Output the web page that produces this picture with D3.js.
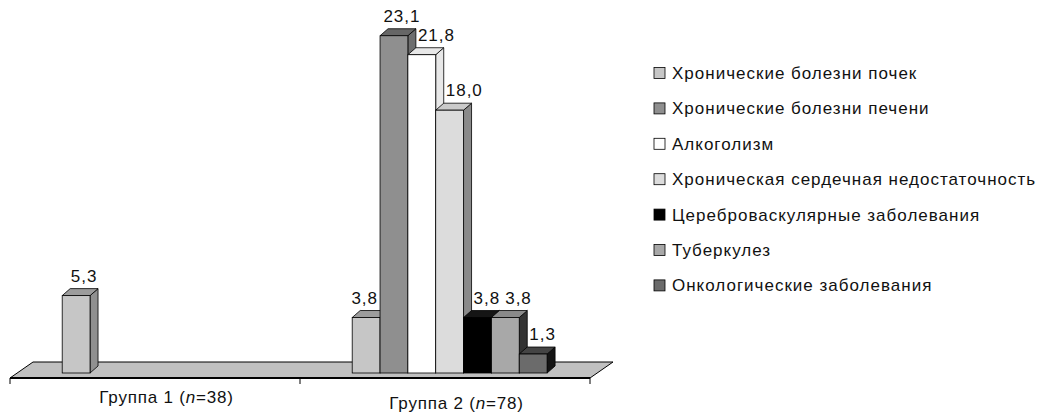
<!DOCTYPE html>
<html>
<head>
<meta charset="utf-8">
<script src="https://cdn.jsdelivr.net/npm/d3@7"></script>
<style>
  body { margin: 0; background: #fff; }
  svg text { font-family: "Liberation Sans", Arial, sans-serif; fill: #111; }
</style>
</head>
<body>
<div id="chart"></div>
<script>
// groups and series
const groups = ["Группа 1", "Группа 2"]
const groupN = [38, 78]
const series = [
  "Хронические болезни почек",
  "Хронические болезни печени",
  "Алкоголизм",
  "Хроническая сердечная недостаточность",
  "Цереброваскулярные заболевания",
  "Туберкулез",
  "Онкологические заболевания"
]
// values per series, one per group (null = no bar)
const group1Values = [5.3, null, null, null, null, null, null]
const group2Values = [3.8, 23.1, 21.8, 18.0, 3.8, 3.8, 1.3]

// face colours: front, top, side
const frontColors = ["#c6c6c6", "#8f8f8f", "#ffffff", "#dcdcdc", "#000000", "#a8a8a8", "#6b6b6b"]
const topColors = ["#9c9c9c", "#666666", "#e8e8e8", "#cacaca", "#151515", "#8a8a8a", "#444444"]
const sideColors = ["#909090", "#6e6e6e", "#e8e8e8", "#8a8a8a", "#1c1c1c", "#333333", "#141414"]

const width = 1046, height = 414
const dx = 8, dy = -7           // bar depth
const fdx = 23, fdy = -16       // floor depth

const svg = d3.select("#chart").append("svg")
  .attr("width", width)
  .attr("height", height)

const x0 = d3.scaleBand().domain(groups).range([10, 590]).padding(0)
const bw = x0.bandwidth()
const x1 = d3.scaleBand().domain(series).range([bw * 0.18, bw * 0.852]).padding(0)
const y = d3.scaleLinear().domain([0, 25]).range([373, 8])

const color = (arr) => d3.scaleOrdinal().domain(series).range(arr)
const cFront = color(frontColors), cTop = color(topColors), cSide = color(sideColors)

// floor
const fy = y(0) + 5
const fx0 = x0.range()[0], fx1 = x0.range()[1]
svg.append("path")
  .attr("d", `M${fx0},${fy} L${fx0 + fdx},${fy + fdy} L${fx1 + fdx},${fy + fdy} L${fx1},${fy} Z`)
  .attr("fill", "#c0c0c0")
  .attr("stroke", "#000")
  .attr("stroke-width", 1)
svg.append("line")
  .attr("x1", fx0).attr("x2", fx1).attr("y1", fy).attr("y2", fy)
  .attr("stroke", "#000").attr("stroke-width", 2.2)

// ticks
const tickX = groups.map(g => x0(g)).concat([fx1])
svg.selectAll("line.tick")
  .data(tickX)
  .enter()
  .append("line")
  .attr("x1", d => d).attr("x2", d => d)
  .attr("y1", fy).attr("y2", fy + 6)
  .attr("stroke", "#000")

// bars
const bars = []
const allValues = [group1Values, group2Values]
groups.forEach((g, gi) => {
  series.forEach((s, si) => {
    const v = allValues[gi][si]
    if (v == null) return
    bars.push({ group: g, series: s, value: v })
  })
})

const w = x1.bandwidth()
const barLeft = d => x0(d.group) + x1(d.series)

const barG = svg.selectAll("g.bar")
  .data(bars)
  .enter()
  .append("g")
  .attr("class", "bar")

barG.each(function (d) {
  const g = d3.select(this)
  const xl = barLeft(d)
  const xr = xl + w
  const yt = y(d.value), yb = y(0)
  g.append("path")  // side
    .attr("d", `M${xr},${yb} L${xr + dx},${yb + dy} L${xr + dx},${yt + dy} L${xr},${yt} Z`)
    .attr("fill", cSide(d.series)).attr("stroke", "#000").attr("stroke-width", 0.8)
  g.append("path")  // top
    .attr("d", `M${xl},${yt} L${xl + dx},${yt + dy} L${xr + dx},${yt + dy} L${xr},${yt} Z`)
    .attr("fill", cTop(d.series)).attr("stroke", "#000").attr("stroke-width", 0.8)
  g.append("rect")  // front
    .attr("x", xl).attr("y", yt).attr("width", w).attr("height", yb - yt)
    .attr("fill", cFront(d.series)).attr("stroke", "#000").attr("stroke-width", 0.8)
})

// value labels
const labels = svg.selectAll("text.value")
  .data(bars)
  .enter()
  .append("text")
  .attr("class", "value")
  .attr("y", d => y(d.value) + dy - 7)
  .attr("text-anchor", "middle")
  .style("font-size", "17px")
  .style("letter-spacing", "1px")
  .text(d => d.value.toFixed(1).replace(".", ","))

// keep labels clear of taller neighbours and of each other
labels.each(function (d) { d.half = this.getComputedTextLength() / 2 })
let prev = null
bars.forEach((d, i) => {
  if (prev && prev.group !== d.group) prev = null
  const next = (bars[i + 1] && bars[i + 1].group === d.group) ? bars[i + 1] : null
  const base = y(d.value) + dy - 7
  let cx = barLeft(d) + w / 2 + dx
  if (prev && y(prev.value) + dy < base) cx = Math.max(cx, barLeft(prev) + w + dx + 2 + d.half)
  if (prev && Math.abs(prev.base - base) < 16) cx = Math.max(cx, prev.cx + prev.half + 5 + d.half)
  if (next && y(next.value) + dy < base) cx = Math.min(cx, barLeft(next) - 2 - d.half)
  d.cx = cx
  d.base = base
  prev = d
})
labels.attr("x", d => d.cx)

// category labels
const catText = svg.selectAll("text.cat")
  .data(groups)
  .enter()
  .append("text")
  .attr("class", "cat")
  .attr("x", d => x0(d) + bw / 2 + fdx / 2)
  .attr("y", (d, i) => fy + 25 + i * 6)
  .attr("text-anchor", "middle")
  .style("font-size", "17px")
  .style("letter-spacing", "0.8px")
catText.append("tspan").text((d, i) => d + " (")
catText.append("tspan").style("font-style", "italic").text("n")
catText.append("tspan").text((d, i) => "=" + groupN[i] + ")")

// legend
const legend = svg.selectAll("g.legend")
  .data(series)
  .enter()
  .append("g")
  .attr("class", "legend")
  .attr("transform", (d, i) => "translate(654," + (73 + i * 35.4) + ")")

legend.append("rect")
  .attr("x", 0).attr("y", -5.5).attr("width", 11).attr("height", 11)
  .attr("fill", d => cFront(d))
  .attr("stroke", "#000").attr("stroke-width", 0.8)

legend.append("text")
  .attr("x", 18).attr("y", 6)
  .style("font-size", "17px")
  .style("letter-spacing", "1px")
  .text(d => d)
</script>
</body>
</html>
